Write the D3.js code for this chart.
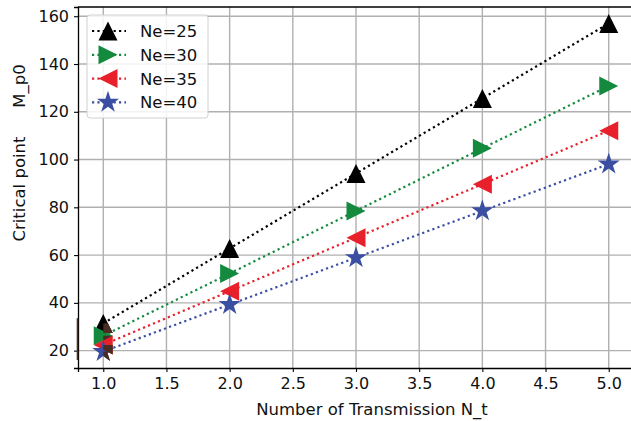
<!DOCTYPE html>
<html>
<head>
<meta charset="utf-8">
<script src="https://cdn.jsdelivr.net/npm/d3@7"></script>
<style>
  body { margin: 0; background: #fff; }
  text { font-family: "DejaVu Sans", sans-serif; }
</style>
</head>
<body>
<svg id="chart" width="631" height="421"></svg>
<script>
// values
const nt = [1, 2, 3, 4, 5];
const ne25 = [31.4, 62.8, 94.2, 125.6, 157.0];
const ne30 = [26.2, 52.3, 78.5, 104.7, 130.8];
const ne35 = [22.4, 44.9, 67.3, 89.7, 112.1];
const ne40 = [19.6, 39.3, 58.9, 78.5, 98.1];
const seriesNames = ['Ne=25', 'Ne=30', 'Ne=35', 'Ne=40'];
const xTicks = [1.0, 1.5, 2.0, 2.5, 3.0, 3.5, 4.0, 4.5, 5.0];
const yTicks = [20, 40, 60, 80, 100, 120, 140, 160];

const series = [
    { name: seriesNames[0], values: ne25, color: '#000000', marker: 'up' },
    { name: seriesNames[1], values: ne30, color: '#148a3f', marker: 'right' },
    { name: seriesNames[2], values: ne35, color: '#e8202b', marker: 'left' },
    { name: seriesNames[3], values: ne40, color: '#3a4fa2', marker: 'star' }
];

const margin = { top: 7, left: 78, bottom: 53, right: -3 };
const width = 631 - margin.left - margin.right;
const height = 421 - margin.top - margin.bottom;
const brown = '#4b2c20';
const markerSize = 19;

const svg = d3.select('#chart');
const chart = svg.append('g')
    .attr('transform', `translate(${margin.left}, ${margin.top})`);

const allY = [].concat(ne25, ne30, ne35, ne40);
const yMin = d3.min(allY), yMax = d3.max(allY);
const yPad = (yMax - yMin) * 0.05;

const xScale = d3.scaleLinear().domain([0.8, 5.2]).range([0, width]);
const yScale = d3.scaleLinear().domain([yMin - yPad, yMax + yPad]).range([height, 0]);

// grid
chart.append('g')
    .selectAll('line')
    .data(xTicks)
    .enter()
    .append('line')
    .attr('x1', (d) => xScale(d)).attr('x2', (d) => xScale(d))
    .attr('y1', 0).attr('y2', height)
    .attr('stroke', '#b0b0b0').attr('stroke-width', 1.4);

chart.append('g')
    .selectAll('line')
    .data(yTicks)
    .enter()
    .append('line')
    .attr('x1', 0).attr('x2', width)
    .attr('y1', (d) => yScale(d)).attr('y2', (d) => yScale(d))
    .attr('stroke', '#b0b0b0').attr('stroke-width', 1.4);

// axes
const xAxis = chart.append('g')
    .attr('transform', `translate(0, ${height})`)
    .call(d3.axisBottom(xScale).tickValues(xTicks).tickFormat(d3.format('.1f')).tickSizeOuter(0).tickSize(4).tickPadding(6));

const yAxis = chart.append('g')
    .call(d3.axisLeft(yScale).tickValues(yTicks).tickSizeOuter(0).tickSize(4).tickPadding(5));

[xAxis, yAxis].forEach((ax) => {
    ax.select('.domain').attr('stroke', '#000').attr('stroke-width', 1.3);
    ax.selectAll('.tick line').attr('stroke', '#000').attr('stroke-width', 1.1);
    ax.selectAll('.tick text')
        .attr('fill', '#111')
        .style('font-family', '"DejaVu Sans", sans-serif')
        .style('font-size', '16px');
});

chart.append('line')
    .attr('x1', 0).attr('x2', width)
    .attr('y1', 0).attr('y2', 0)
    .attr('stroke', '#000').attr('stroke-width', 1.3);

// markers
const symbolFor = (kind, size) => {
    const h = size / 2;
    if (kind === 'up') return `M0,${-h}L${h},${h}L${-h},${h}Z`;
    if (kind === 'right') return `M${h},0L${-h},${h}L${-h},${-h}Z`;
    if (kind === 'left') return `M${-h},0L${h},${-h}L${h},${h}Z`;
    return d3.symbol().type(d3.symbolStar).size(size * size * 0.42)();
};

const line = d3.line()
    .x((d) => xScale(d[0]))
    .y((d) => yScale(d[1]));

series.forEach((s) => {
    const pts = nt.map((x, i) => [x, s.values[i]]);

    chart.append('path')
        .datum(pts)
        .attr('d', line)
        .attr('fill', 'none')
        .attr('stroke', s.color)
        .attr('stroke-width', 2.2)
        .attr('stroke-dasharray', '2.2 3.2');

    chart.selectAll(null)
        .data(pts)
        .enter()
        .append('path')
        .attr('transform', (d) => `translate(${xScale(d[0])}, ${yScale(d[1])})`)
        .attr('d', symbolFor(s.marker, markerSize))
        .attr('fill', s.color);
});

// odd brown smear on the left half of the first markers
const clip = svg.append('defs').append('clipPath').attr('id', 'lefthalf');
clip.append('rect')
    .attr('x', 0).attr('y', 0)
    .attr('width', xScale(nt[0])).attr('height', height);

series.forEach((s) => {
    chart.append('path')
        .attr('clip-path', 'url(#lefthalf)')
        .attr('transform', `translate(${xScale(nt[0])}, ${yScale(s.values[0])})`)
        .attr('d', symbolFor(s.marker, markerSize))
        .attr('fill', brown);
});

chart.append('line')
    .attr('x1', -0.5).attr('x2', -0.5)
    .attr('y1', yScale(33.6)).attr('y2', yScale(16.1))
    .attr('stroke', brown).attr('stroke-width', 1.6);

// legend
const legend = chart.append('g')
    .attr('transform', 'translate(9, 8)');

legend.append('rect')
    .attr('width', 121).attr('height', 103)
    .attr('rx', 3)
    .attr('fill', '#fff').attr('fill-opacity', 0.85)
    .attr('stroke', '#d0d0d0').attr('stroke-width', 1);

series.forEach((s, i) => {
    const row = legend.append('g')
        .attr('transform', `translate(0, ${16 + i * 23.8})`);
    row.append('line')
        .attr('x1', 5).attr('x2', 39)
        .attr('stroke', s.color).attr('stroke-width', 2.2)
        .attr('stroke-dasharray', '2.2 3.2');
    row.append('path')
        .attr('transform', 'translate(21, 0)')
        .attr('d', symbolFor(s.marker, markerSize))
        .attr('fill', s.color);
    row.append('text')
        .attr('x', 53).attr('y', 0)
        .attr('dy', '0.36em')
        .attr('fill', '#111')
        .style('font-size', '16.5px')
        .text(s.name);
});

// labels
svg.append('text')
    .attr('x', 372)
    .attr('y', 415)
    .attr('text-anchor', 'middle')
    .attr('fill', '#111')
    .style('font-size', '16.5px')
    .text('Number of Transmission N_t');

svg.append('text')
    .attr('transform', 'translate(25, 189) rotate(-90)')
    .attr('text-anchor', 'middle')
    .attr('fill', '#111')
    .style('font-size', '16.5px')
    .text('Critical point');

svg.append('text')
    .attr('transform', 'translate(25, 86) rotate(-90)')
    .attr('text-anchor', 'middle')
    .attr('fill', '#111')
    .style('font-size', '16.5px')
    .text('M_p0');
</script>
</body>
</html>
